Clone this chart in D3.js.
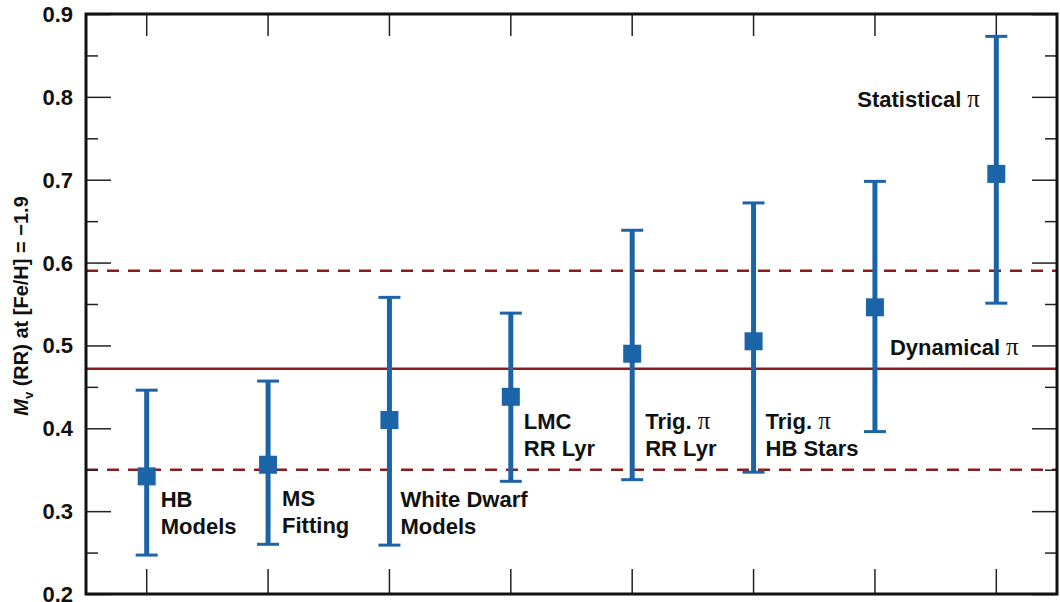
<html>
<head>
<script src="https://cdn.jsdelivr.net/npm/d3@7"></script>
<style>
  body { margin: 0; background: #fff; }
  text { font-family: "Liberation Sans", Arial, Helvetica, sans-serif; font-weight: bold; }
</style>
</head>
<body>
<div id="chart"></div>
<script>
// data
var methods = ["HB Models", "MS Fitting", "White Dwarf Models", "LMC RR Lyr",
               "Trig. RR Lyr", "Trig. HB Stars", "Dynamical", "Statistical"];
var mv    = [0.342, 0.356, 0.410, 0.438, 0.490, 0.505, 0.546, 0.707];
var upper = [0.446, 0.457, 0.558, 0.539, 0.639, 0.672, 0.698, 0.873];
var lower = [0.247, 0.260, 0.259, 0.336, 0.338, 0.347, 0.396, 0.551];
var meanLine = 0.472;
var bandLines = [0.350, 0.590];
var yTicks = [0.2, 0.3, 0.4, 0.5, 0.6, 0.7, 0.8, 0.9];
var labelLines = [["HB", "Models"], ["MS", "Fitting"], ["White Dwarf", "Models"], ["LMC", "RR Lyr"],
                  ["Trig. \u03c0", "RR Lyr"], ["Trig. \u03c0", "HB Stars"], ["Dynamical \u03c0"], ["Statistical \u03c0"]];

// label placement (pixel offset from band centre, baseline y)
var labelPos = [[14, 507], [14, 506], [11, 507], [13, 429], [13, 429], [12, 429], [15, 355], [-139, 107]];

var W = 1060, H = 602;
var margin = {top: 14, right: 3, bottom: 8, left: 86};
var width = W - margin.left - margin.right,
    height = H - margin.top - margin.bottom;

var svg = d3.select("#chart").append("svg")
    .attr("width", W).attr("height", H);
var g = svg.append("g")
    .attr("transform", "translate(" + margin.left + "," + margin.top + ")");

var x = d3.scaleBand().domain(methods).range([0, width]);
var y = d3.scaleLinear().domain([0.2, 0.9]).range([height, 0]);
var cx = function(d) { return x(d) + x.bandwidth() / 2; };

var red = "#8b1c1c", blue = "#1c64a8";

// reference lines
g.append("line")
  .attr("x1", 0).attr("x2", width)
  .attr("y1", y(meanLine)).attr("y2", y(meanLine))
  .attr("stroke", red).attr("stroke-width", 2.5);
g.selectAll(".band").data(bandLines).enter().append("line")
  .attr("x1", 0).attr("x2", width)
  .attr("y1", function(d) { return y(d); }).attr("y2", function(d) { return y(d); })
  .attr("stroke", red).attr("stroke-width", 2.5)
  .attr("stroke-dasharray", "12,9");

// ticks (minor every 0.05)
var minor = d3.range(0.25, 0.9, 0.1);
var yAxisL = d3.axisRight(y).tickValues(yTicks).tickSize(25).tickFormat("");
var yAxisR = d3.axisLeft(y).tickValues(yTicks).tickSize(25).tickFormat("");
var tickStyle = function(sel) {
  sel.select(".domain").remove();
  sel.selectAll("line").attr("stroke", "#222").attr("stroke-width", 1.5);
};
g.append("g").call(yAxisL).call(tickStyle);
g.append("g").attr("transform", "translate(" + width + ",0)").call(yAxisR).call(tickStyle);
g.append("g").call(d3.axisRight(y).tickValues(minor).tickSize(12).tickFormat("")).call(tickStyle);
g.append("g").attr("transform", "translate(" + width + ",0)")
  .call(d3.axisLeft(y).tickValues(minor).tickSize(12).tickFormat("")).call(tickStyle);
g.append("g").call(d3.axisBottom(x).tickSize(22).tickFormat("")).call(tickStyle);
g.append("g").attr("transform", "translate(0," + height + ")")
  .call(d3.axisTop(x).tickSize(25).tickFormat("")).call(tickStyle);

// y tick labels
g.selectAll(".ylab").data(yTicks).enter().append("text")
  .attr("x", -13).attr("y", function(d) { return y(d) + 8; })
  .attr("text-anchor", "end").attr("font-size", 22).attr("fill", "#111")
  .text(function(d) { return d3.format(".1f")(d); });

// error bars
var pts = methods.map(function(m, i) { return {m: m, v: mv[i], hi: upper[i], lo: lower[i], i: i}; });
var eb = g.selectAll(".eb").data(pts).enter().append("g");
eb.append("line")
  .attr("x1", function(d) { return cx(d.m); }).attr("x2", function(d) { return cx(d.m); })
  .attr("y1", function(d) { return y(d.hi); }).attr("y2", function(d) { return y(d.lo); })
  .attr("stroke", blue).attr("stroke-width", 5);
["hi", "lo"].forEach(function(k) {
  eb.append("line")
    .attr("x1", function(d) { return cx(d.m) - 11; }).attr("x2", function(d) { return cx(d.m) + 11; })
    .attr("y1", function(d) { return y(d[k]); }).attr("y2", function(d) { return y(d[k]); })
    .attr("stroke", blue).attr("stroke-width", 3);
});
eb.append("rect")
  .attr("x", function(d) { return cx(d.m) - 9; })
  .attr("y", function(d) { return y(d.v) - 9; })
  .attr("width", 18).attr("height", 18)
  .attr("fill", blue);

// method labels
pts.forEach(function(d) {
  var lx = margin.left + cx(d.m) + labelPos[d.i][0];
  var t = svg.append("text")
    .attr("font-size", 22).attr("fill", "#111")
    .attr("x", lx).attr("y", labelPos[d.i][1]);
  labelLines[d.i].forEach(function(line, j) {
    var ts = t.append("tspan").attr("x", lx).attr("dy", j === 0 ? 0 : 27);
    if (line.indexOf("\u03c0") >= 0) {
      ts.text(line.replace(" \u03c0", " "));
      ts.append("tspan").attr("font-family", "'Liberation Serif', 'DejaVu Serif', serif")
        .attr("font-weight", "normal").attr("font-size", 25).text("\u03c0");
    } else ts.text(line);
  });
});

// frame
g.append("rect").attr("width", width).attr("height", height)
  .attr("fill", "none").attr("stroke", "#111").attr("stroke-width", 3);

// y axis title
var yt = svg.append("text")
  .attr("transform", "translate(28," + 306 + ") rotate(-90)")
  .attr("text-anchor", "middle").attr("font-size", 20).attr("fill", "#111");
yt.append("tspan").attr("font-style", "italic").text("M");
yt.append("tspan").attr("font-size", 13).attr("dy", 5).text("v");
yt.append("tspan").attr("dy", -5).text(" (RR) at [Fe/H] = \u22121.9");
</script>
</body>
</html>
